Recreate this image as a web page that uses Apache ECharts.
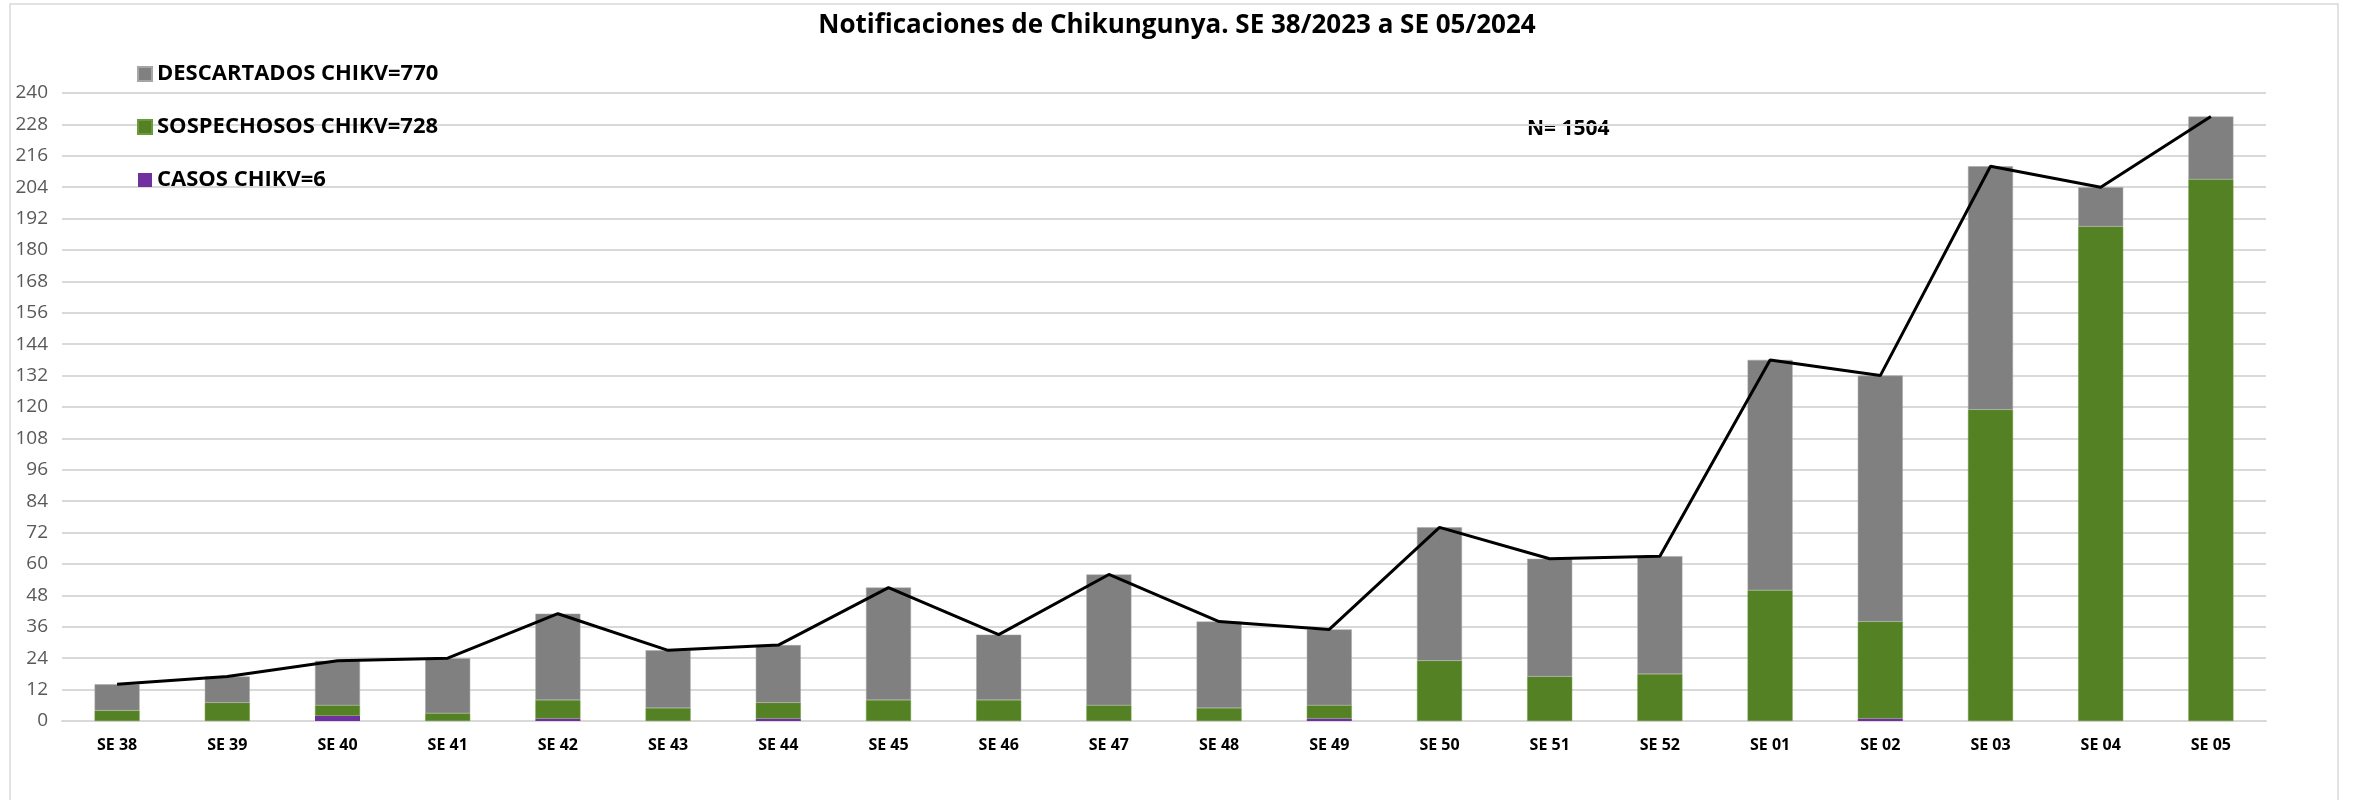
<!DOCTYPE html>
<html>
<head>
<meta charset="utf-8">
<script src="https://cdn.jsdelivr.net/npm/echarts@6/dist/echarts.min.js"></script>
<style>
html,body{margin:0;padding:0;background:#fff;}
#chart{width:2354px;height:800px;}
</style>
</head>
<body>
<div id="chart"></div>
<script>
const categories = ['SE 38','SE 39','SE 40','SE 41','SE 42','SE 43','SE 44','SE 45','SE 46','SE 47','SE 48','SE 49','SE 50','SE 51','SE 52','SE 01','SE 02','SE 03','SE 04','SE 05'];
const casos        = [0,0,2,0,1,0,1,0,0,0,0,1,0,0,0,0,1,0,0,0];
const sospechosos  = [4,7,4,3,7,5,6,8,8,6,5,5,23,17,18,50,37,119,189,207];
const descartados  = [10,10,17,21,33,22,22,43,25,50,33,29,51,45,45,88,94,93,15,24];
const totales      = [14,17,23,24,41,27,29,51,33,56,38,35,74,62,63,138,132,212,204,231];
const yTicks = {min:0, max:240, interval:12};
const titleText = 'Notificaciones de Chikungunya. SE 38/2023 a SE 05/2024';
const legendNames = ['DESCARTADOS CHIKV=770','SOSPECHOSOS CHIKV=728','CASOS CHIKV=6'];
const nText = 'N= 1504';

const FONT = '"Open Sans", "Noto Sans", sans-serif';
const chart = echarts.init(document.getElementById('chart'));
chart.setOption({
  animation:false,
  backgroundColor:'#ffffff',
  title:{
    text:titleText, left:'center', top:8,
    textStyle:{fontFamily:FONT, fontSize:26, fontWeight:'bold', color:'#000'}
  },
  legend:{
    data:[legendNames[0],legendNames[1],legendNames[2]],
    orient:'vertical', left:132, top:58,
    itemWidth:14, itemHeight:14, itemGap:31, icon:'rect',
    textStyle:{fontFamily:FONT, fontSize:22, fontWeight:'bold', color:'#000', lineHeight:22}
  },
  grid:{left:62, right:88, top:93, bottom:79},
  xAxis:{
    type:'category', data:categories,
    axisLine:{show:true, lineStyle:{color:'#d9d9d9', width:2}},
    axisTick:{show:false},
    axisLabel:{fontFamily:FONT, fontSize:16, fontWeight:'bold', color:'#000', margin:16}
  },
  yAxis:{
    type:'value', min:yTicks.min, max:yTicks.max, interval:yTicks.interval,
    axisLine:{show:false}, axisTick:{show:false},
    splitLine:{lineStyle:{color:'#d9d9d9', width:2}},
    axisLabel:{fontFamily:FONT, fontSize:19, color:'#595959', margin:14}
  },
  graphic:[
    {type:'rect', shape:{x:10,y:4,width:2328,height:830}, style:{fill:'none', stroke:'#d9d9d9', lineWidth:1.5}, silent:true, z:-10},
    {type:'text', left:1527, top:119, style:{text:nText, fontFamily:FONT, fontSize:21, fontWeight:'bold', fill:'#000'}}
  ],
  series:[
    {name:legendNames[2], type:'bar', stack:'s', data:casos, barWidth:45, itemStyle:{color:'#7030a0'}},
    {name:legendNames[1], type:'bar', stack:'s', data:sospechosos, barWidth:45, itemStyle:{color:'#538124', borderColor:'#6a9a3c', borderWidth:0.5}},
    {name:legendNames[0], type:'bar', stack:'s', data:descartados, barWidth:45, itemStyle:{color:'#808080', borderColor:'#a6a6a6', borderWidth:0.5}},
    {name:'Total', type:'line', data:totales, symbol:'none', z:5,
     lineStyle:{color:'#000', width:3}}
  ]
});
</script>
</body>
</html>
